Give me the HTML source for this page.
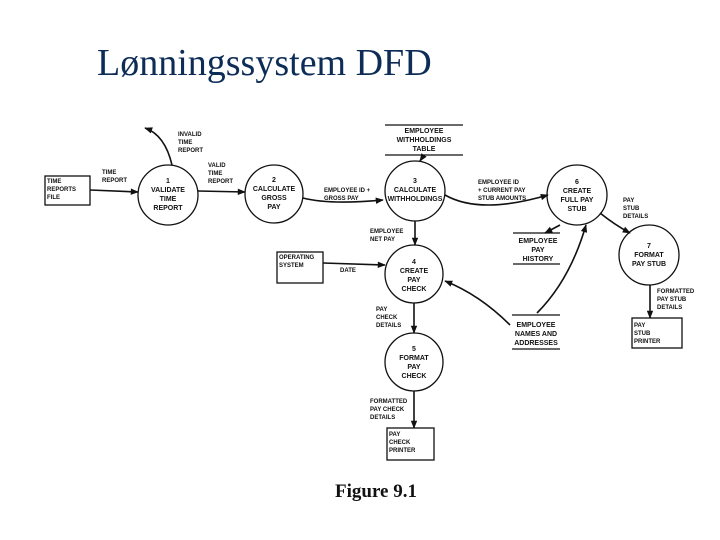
<!DOCTYPE html>
<html><head><meta charset="utf-8"><style>
html,body{margin:0;padding:0;background:#fff;}
svg{display:block}
.t{font-family:"Liberation Sans",sans-serif;font-weight:bold;font-size:6px;fill:#111}
.c{text-anchor:middle;font-size:7px}
</style></head><body>
<svg width="720" height="540" viewBox="0 0 720 540" xmlns="http://www.w3.org/2000/svg">
<defs><marker id="a" viewBox="0 0 10 10" refX="9" refY="5" markerWidth="7" markerHeight="5" orient="auto"><path d="M0,1 L10,5 L0,9 z" fill="#111"/></marker></defs>
<text x="97" y="75" font-family="Liberation Serif,serif" font-size="38" fill="#0d2d57">Lønningssystem DFD</text>
<g stroke="#111" stroke-width="1.3" fill="none">
<circle cx="168" cy="195" r="30"/>
<circle cx="274" cy="194" r="29"/>
<circle cx="415" cy="191" r="30"/>
<circle cx="414" cy="274" r="29"/>
<circle cx="414" cy="362" r="29"/>
<circle cx="577" cy="195" r="30"/>
<circle cx="649" cy="255" r="30"/>
<rect x="45" y="176" width="45" height="29"/>
<rect x="277" y="252" width="46" height="31"/>
<rect x="632" y="318" width="50" height="30"/>
<rect x="387" y="428" width="47" height="32"/>
<line x1="385" y1="125" x2="463" y2="125"/><line x1="385" y1="155" x2="463" y2="155"/>
<line x1="513" y1="233" x2="560" y2="233"/><line x1="513" y1="264" x2="560" y2="264"/>
<line x1="512" y1="315" x2="560" y2="315"/><line x1="512" y1="349" x2="560" y2="349"/>
</g>
<g stroke="#111" stroke-width="1.6" fill="none" marker-end="url(#a)">
<path d="M90,190 L138,192"/>
<path d="M172,165 Q165,135 145,128"/>
<path d="M198,191 L245,192"/>
<path d="M303,198 Q330,205 383,200"/>
<path d="M424,155 L420,161"/>
<path d="M445,195 Q480,215 548,195"/>
<path d="M415,221 L415,245"/>
<path d="M323,263 L385,265"/>
<path d="M414,303 L414,333"/>
<path d="M414,391 L414,428"/>
<path d="M600,213 Q615,225 630,233"/>
<path d="M650,285 L650,318"/>
<path d="M560,225 L545,233"/>
<path d="M537,313 Q570,280 586,225"/>
<path d="M510,325 Q480,295 445,281"/>
</g>
<g class="t">
<text x="47" y="183">TIME</text><text x="47" y="191">REPORTS</text><text x="47" y="199">FILE</text>
<text x="102" y="174">TIME</text><text x="102" y="182">REPORT</text>
<text x="178" y="136">INVALID</text><text x="178" y="144">TIME</text><text x="178" y="152">REPORT</text>
<text x="208" y="167">VALID</text><text x="208" y="175">TIME</text><text x="208" y="183">REPORT</text>
<text x="324" y="192">EMPLOYEE ID +</text><text x="324" y="200">GROSS PAY</text>
<text x="478" y="184">EMPLOYEE ID</text><text x="478" y="192">+ CURRENT PAY</text><text x="478" y="200">STUB AMOUNTS</text>
<text x="370" y="233">EMPLOYEE</text><text x="370" y="241">NET PAY</text>
<text x="279" y="259">OPERATING</text><text x="279" y="267">SYSTEM</text>
<text x="340" y="272">DATE</text>
<text x="376" y="311">PAY</text><text x="376" y="319">CHECK</text><text x="376" y="327">DETAILS</text>
<text x="370" y="403">FORMATTED</text><text x="370" y="411">PAY CHECK</text><text x="370" y="419">DETAILS</text>
<text x="389" y="436">PAY</text><text x="389" y="444">CHECK</text><text x="389" y="452">PRINTER</text>
<text x="623" y="202">PAY</text><text x="623" y="210">STUB</text><text x="623" y="218">DETAILS</text>
<text x="657" y="293">FORMATTED</text><text x="657" y="301">PAY STUB</text><text x="657" y="309">DETAILS</text>
<text x="634" y="327">PAY</text><text x="634" y="335">STUB</text><text x="634" y="343">PRINTER</text>
<text class="c" x="424" y="133">EMPLOYEE</text><text class="c" x="424" y="142">WITHHOLDINGS</text><text class="c" x="424" y="151">TABLE</text>
<text class="c" x="538" y="243">EMPLOYEE</text><text class="c" x="538" y="252">PAY</text><text class="c" x="538" y="261">HISTORY</text>
<text class="c" x="536" y="327">EMPLOYEE</text><text class="c" x="536" y="336">NAMES AND</text><text class="c" x="536" y="345">ADDRESSES</text>
<text class="c" x="168" y="183">1</text><text class="c" x="168" y="192">VALIDATE</text><text class="c" x="168" y="201">TIME</text><text class="c" x="168" y="210">REPORT</text>
<text class="c" x="274" y="182">2</text><text class="c" x="274" y="191">CALCULATE</text><text class="c" x="274" y="200">GROSS</text><text class="c" x="274" y="209">PAY</text>
<text class="c" x="415" y="183">3</text><text class="c" x="415" y="192">CALCULATE</text><text class="c" x="415" y="201">WITHHOLDINGS</text>
<text class="c" x="414" y="264">4</text><text class="c" x="414" y="273">CREATE</text><text class="c" x="414" y="282">PAY</text><text class="c" x="414" y="291">CHECK</text>
<text class="c" x="414" y="351">5</text><text class="c" x="414" y="360">FORMAT</text><text class="c" x="414" y="369">PAY</text><text class="c" x="414" y="378">CHECK</text>
<text class="c" x="577" y="184">6</text><text class="c" x="577" y="193">CREATE</text><text class="c" x="577" y="202">FULL PAY</text><text class="c" x="577" y="211">STUB</text>
<text class="c" x="649" y="248">7</text><text class="c" x="649" y="257">FORMAT</text><text class="c" x="649" y="266">PAY STUB</text>
</g>
<text x="376" y="497" text-anchor="middle" font-family="Liberation Serif,serif" font-weight="bold" font-size="19" fill="#111">Figure 9.1</text>
</svg>
</body></html>
